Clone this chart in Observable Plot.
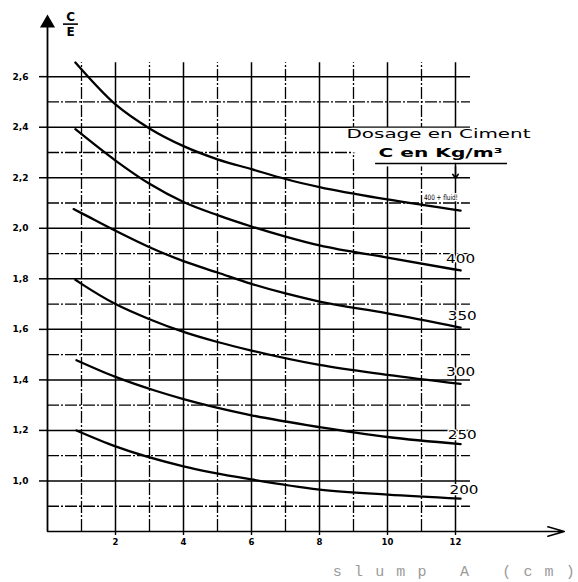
<!DOCTYPE html>
<html><head><meta charset="utf-8">
<script src="https://cdn.jsdelivr.net/npm/d3@7"></script>
<script src="https://cdn.jsdelivr.net/npm/@observablehq/plot@0.6"></script>
<style>html,body{margin:0;padding:0;background:#fff} svg{display:block}</style>
</head><body><div id="chart"></div>
<script>
// ---- data (C/E ratio vs slump A in cm) ----
const seriesNames = ["400 + fluid!", "400", "350", "300", "250", "200"];
const xFluid = [0.82, 2, 3, 4, 5, 6, 7, 8, 10, 12.15];
const cFluid = [2.656, 2.49, 2.395, 2.325, 2.273, 2.234, 2.195, 2.163, 2.114, 2.07];
const x400 = [0.82, 2, 3, 4, 5, 6, 7, 8, 10, 12.15];
const c400 = [2.392, 2.268, 2.176, 2.104, 2.052, 2.007, 1.967, 1.932, 1.884, 1.833];
const x350 = [0.77, 1, 2, 3, 4, 5, 6, 7, 8, 10, 12.15];
const c350 = [2.076, 2.06, 1.99, 1.925, 1.87, 1.825, 1.78, 1.742, 1.71, 1.663, 1.607];
const x300 = [0.82, 1, 2, 3, 4, 5, 6, 8, 10, 12.15];
const c300 = [1.796, 1.78, 1.70, 1.64, 1.59, 1.55, 1.516, 1.459, 1.42, 1.384];
const x250 = [0.85, 2, 3.2, 4, 6, 8, 10, 12.15];
const c250 = [1.478, 1.412, 1.356, 1.324, 1.26, 1.213, 1.174, 1.146];
const x200 = [0.85, 2, 4, 6, 8, 10, 12.15];
const c200 = [1.20, 1.137, 1.058, 1.006, 0.966, 0.946, 0.93];

const xTicks = [2, 4, 6, 8, 10, 12];
const yTicks = [1.0, 1.2, 1.4, 1.6, 1.8, 2.0, 2.2, 2.4, 2.6];
const xGrid = [1,2,3,4,5,6,7,8,9,10,11,12];
const yGrid = [0.9,1.0,1.1,1.2,1.3,1.4,1.5,1.6,1.7,1.8,1.9,2.0,2.1,2.2,2.3,2.4,2.5,2.6];

// ---- annotation anchors (data units) ----
const curveLabelX = [11.57, 12.15, 12.2, 12.15, 12.2, 12.25];
const curveLabelY = [2.122, 1.88, 1.655, 1.43, 1.184, 0.966];
const legendTitle = ["Dosage en Ciment", "C en Kg/m³"];
const xTitle = "slump A (cm)";

const xs = [xFluid, x400, x350, x300, x250, x200];
const cs = [cFluid, c400, c350, c300, c250, c200];
const curves = seriesNames.flatMap((s, i) => xs[i].map((x, j) => ({s, x, c: cs[i][j]})));
const labels = seriesNames.map((s, i) => ({s, x: curveLabelX[i], y: curveLabelY[i]}));
const gridLines = xGrid.map(x => ({x, major: x % 2 === 0}));
const gridRows = yGrid.map(y => ({y, major: Math.round(y * 10) % 2 === 0}));
const clearBoxes = [
  {x1: 8.95, x2: 12.7, y1: 2.298, y2: 2.396},
  {x1: 9.05, x2: 12.7, y1: 2.243, y2: 2.302}
];

const font = "DejaVu Sans";
const dash = "12,2,2,2";

const chart = Plot.plot({
  width: 578, height: 582,
  marginLeft: 47, marginRight: 21, marginTop: 13, marginBottom: 51,
  style: {fontFamily: font, background: "white", color: "black"},
  x: {domain: [0, 15], axis: null},
  y: {domain: [0.8, 2.85], axis: null},
  marks: [
    // grid
    Plot.ruleX(gridLines.filter(d => d.major), {x: "x", y1: 0.8, y2: 2.655, stroke: "black", strokeWidth: 1.5}),
    Plot.ruleX(gridLines.filter(d => !d.major), {x: "x", y1: 0.8, y2: 2.655, stroke: "black", strokeWidth: 1.3, strokeDasharray: dash}),
    Plot.ruleY(gridRows.filter(d => d.major), {y: "y", x1: 0, x2: 12.44, stroke: "black", strokeWidth: 1.5}),
    Plot.ruleY(gridRows.filter(d => !d.major), {y: "y", x1: 0, x2: 12.44, stroke: "black", strokeWidth: 1.3, strokeDasharray: dash}),
    Plot.rect(clearBoxes, {x1: "x1", x2: "x2", y1: "y1", y2: "y2", fill: "white"}),
    // curves
    Plot.line(curves, {x: "x", y: "c", z: "s", curve: "monotone-x", stroke: "black", strokeWidth: 2.3}),
    // axes
    Plot.ruleX([0], {y1: 0.8, y2: 2.8, stroke: "black", strokeWidth: 1.8}),
    Plot.dot([{x: 0, y: 2.812}], {x: "x", y: "y", symbol: "triangle", r: 5.6, fill: "black", stroke: "none"}),
    Plot.arrow([{x1: 0, x2: 15.2, y: 0.8}], {x1: "x1", x2: "x2", y1: "y", y2: "y", stroke: "black", strokeWidth: 1.6, headLength: 16, headAngle: 32}),
    Plot.axisY({ticks: yTicks, tickSize: 8, tickPadding: 11, tickFormat: d => d.toFixed(1).replace(".", ","), fontSize: 9, fontWeight: "bold", strokeWidth: 1.5}),
    Plot.axisX({ticks: xTicks, tickSize: 4, tickPadding: 3, fontSize: 8.5, fontWeight: "bold", strokeWidth: 1.4}),
    // C/E axis title
    Plot.text(["C"], {x: 0.68, y: 2.834, text: d => d, fontSize: 12, fontWeight: "bold"}),
    Plot.ruleY([2.808], {x1: 0.47, x2: 0.91, stroke: "black", strokeWidth: 1.6}),
    Plot.text(["E"], {x: 0.68, y: 2.777, text: d => d, fontSize: 12, fontWeight: "bold"}),
    // legend title
    Plot.text([legendTitle[0]], {x: 11.5, y: 2.375, text: d => d, fontSize: 13}),
    Plot.text([legendTitle[1]], {x: 11.56, y: 2.30, text: d => d, fontSize: 13, fontWeight: "bold"}),
    Plot.ruleY([2.256], {x1: 9.65, x2: 13.53, stroke: "black", strokeWidth: 1.5}),
    Plot.arrow([{x: 12, y1: 2.256, y2: 2.198}], {x1: "x", x2: "x", y1: "y1", y2: "y2", stroke: "black", strokeWidth: 1.5, headLength: 6, headAngle: 70}),
    // curve labels
    Plot.text(labels, {x: "x", y: "y", text: "s", fontSize: d => d.s.length > 3 ? 7.5 : 13, stroke: "white", strokeWidth: 2.5, fill: "black", paintOrder: "stroke"}),
    // x axis title
    Plot.text([xTitle], {x: 11.95, y: 0.642, text: d => d, fontSize: 15, fontFamily: "Liberation Mono", fill: "#9a9a9a"})
  ]
});

const fit = (txt, len, adjust) => d3.select(chart).selectAll("text")
  .filter(function(){ return this.textContent === txt; })
  .attr("textLength", len).attr("lengthAdjust", adjust);
fit(xTitle, 242, "spacing");
fit(legendTitle[0], 184, "spacingAndGlyphs");
fit(legendTitle[1], 124, "spacingAndGlyphs");
fit(seriesNames[0], 34, "spacingAndGlyphs");
["400", "350", "300", "250", "200"].forEach(s => fit(s, 29, "spacingAndGlyphs"));

document.getElementById("chart").appendChild(chart);
</script>
</body></html>
